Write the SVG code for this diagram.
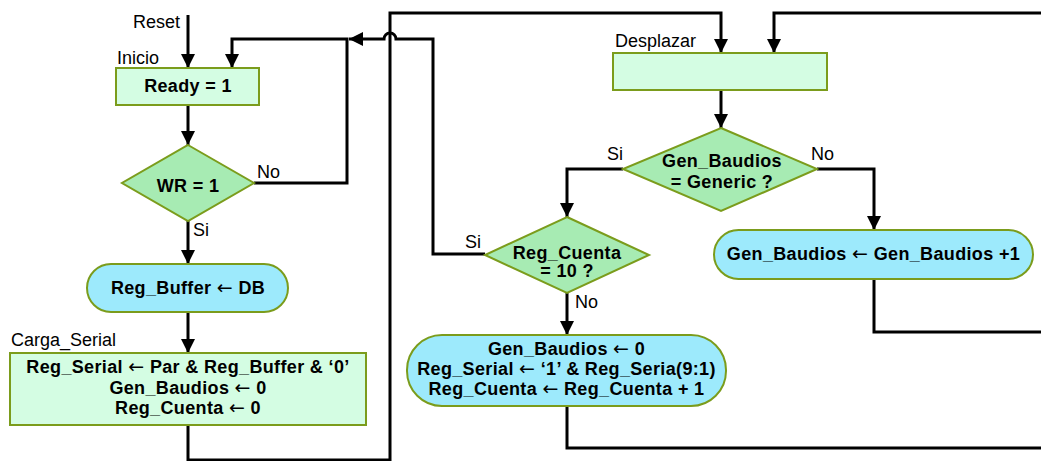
<svg xmlns="http://www.w3.org/2000/svg" width="1041" height="461" viewBox="0 0 1041 461">
  <style>
    .bg { fill: #ffffff; }
    .box { fill: #d4fde3; stroke: #7b9c1c; stroke-width: 2; }
    .dec { fill: #a7ebb3; stroke: #7b9c1c; stroke-width: 2; }
    .term { fill: #9deafc; stroke: #7b9c1c; stroke-width: 2; }
    .wire { fill: none; stroke: #000000; stroke-width: 3; }
    .t { font-family: "Liberation Sans", Arial, sans-serif; font-size: 18px; font-weight: bold; fill: #000000; text-anchor: middle; letter-spacing: 0.35px; }
    .ar { font-family: "DejaVu Sans", sans-serif; font-weight: normal; font-size: 19px; }
    .lbl { font-family: "Liberation Sans", Arial, sans-serif; font-size: 18px; fill: #000000; }
  </style>
  <defs>
    <marker id="ah" viewBox="0 0 14 14" refX="14" refY="7" markerWidth="14" markerHeight="14" markerUnits="userSpaceOnUse" orient="auto">
      <path d="M0,0 L14,7 L0,14 Z" fill="#000000"/>
    </marker>
  </defs>
  <rect class="bg" x="0" y="0" width="1041" height="461"/>

  <!-- connectors -->
  <g id="connectors">
    <path class="wire" d="M188,15 V68" marker-end="url(#ah)"/>
    <path class="wire" d="M188,105 V145" marker-end="url(#ah)"/>
    <path class="wire" d="M254,183 H347 V39 H232 V68" marker-end="url(#ah)"/>
    <path class="wire" d="M188,221 V264" marker-end="url(#ah)"/>
    <path class="wire" d="M188,312 V353" marker-end="url(#ah)"/>
    <path class="wire" d="M188,425 V460 H390 V13 H721 V53" marker-end="url(#ah)"/>
    <path class="wire" d="M1041,13 H774 V53" marker-end="url(#ah)"/>
    <path class="wire" d="M721,90 V128" marker-end="url(#ah)"/>
    <path class="wire" d="M623,169 H567 V217" marker-end="url(#ah)"/>
    <path class="wire" d="M817,169 H874 V230" marker-end="url(#ah)"/>
    <path class="wire" d="M874,279 V332 H1041"/>
    <path class="wire" d="M485,254 H433 V39 H396 A6,6 0 0 0 384,39 H349" marker-end="url(#ah)"/>
    <path class="wire" d="M567,293 V335" marker-end="url(#ah)"/>
    <path class="wire" d="M567,406 V448 H1041"/>
  </g>

  <!-- labels -->
  <text class="lbl" x="133" y="28">Reset</text>
  <text class="lbl" x="117" y="64">Inicio</text>
  <text class="lbl" x="257" y="178">No</text>
  <text class="lbl" x="193" y="236">Si</text>
  <text class="lbl" x="11" y="346">Carga_Serial</text>
  <text class="lbl" x="615" y="47">Desplazar</text>
  <text class="lbl" x="607" y="160">Si</text>
  <text class="lbl" x="811" y="160">No</text>
  <text class="lbl" x="465" y="248">Si</text>
  <text class="lbl" x="575" y="308">No</text>

  <g id="inicio">
    <rect class="box" x="116" y="68" width="143" height="37"/>
    <text class="t" x="188" y="92">Ready = 1</text>
  </g>

  <g id="wr">
    <polygon class="dec" points="188,145 254,183 188,221 122,183"/>
    <text class="t" x="188" y="192">WR = 1</text>
  </g>

  <g id="buffer">
    <rect class="term" x="87" y="264" width="201" height="48" rx="24" ry="24"/>
    <text class="t" x="188" y="294">Reg_Buffer <tspan class="ar">←</tspan> DB</text>
  </g>

  <g id="carga">
    <rect class="box" x="10" y="353" width="356" height="72"/>
    <text class="t" x="188" y="373">Reg_Serial <tspan class="ar">←</tspan> Par &amp; Reg_Buffer &amp; ‘0’</text>
    <text class="t" x="188" y="394">Gen_Baudios <tspan class="ar">←</tspan> 0</text>
    <text class="t" x="188" y="414">Reg_Cuenta <tspan class="ar">←</tspan> 0</text>
  </g>

  <g id="desplazar">
    <rect class="box" x="613" y="53" width="214" height="37"/>
  </g>

  <g id="genbaudios-test">
    <polygon class="dec" points="721,128 817,169 721,211 623,169"/>
    <text class="t" x="722" y="167">Gen_Baudios</text>
    <text class="t" x="722" y="188">= Generic ?</text>
  </g>

  <g id="cuenta-test">
    <polygon class="dec" points="567,217 649,255 567,293 485,255"/>
    <text class="t" x="567" y="259">Reg_Cuenta</text>
    <text class="t" x="567" y="277">= 10 ?</text>
  </g>

  <g id="genbaudios-inc">
    <rect class="term" x="714" y="230" width="319" height="49" rx="24.5" ry="24.5"/>
    <text class="t" x="873.5" y="260">Gen_Baudios <tspan class="ar">←</tspan> Gen_Baudios +1</text>
  </g>

  <g id="shift">
    <rect class="term" x="407" y="335" width="319" height="71" rx="35" ry="35"/>
    <text class="t" x="566.5" y="355">Gen_Baudios <tspan class="ar">←</tspan> 0</text>
    <text class="t" x="566.5" y="375">Reg_Serial <tspan class="ar">←</tspan> ‘1’ &amp; Reg_Seria(9:1)</text>
    <text class="t" x="566.5" y="395">Reg_Cuenta <tspan class="ar">←</tspan> Reg_Cuenta + 1</text>
  </g>
</svg>
